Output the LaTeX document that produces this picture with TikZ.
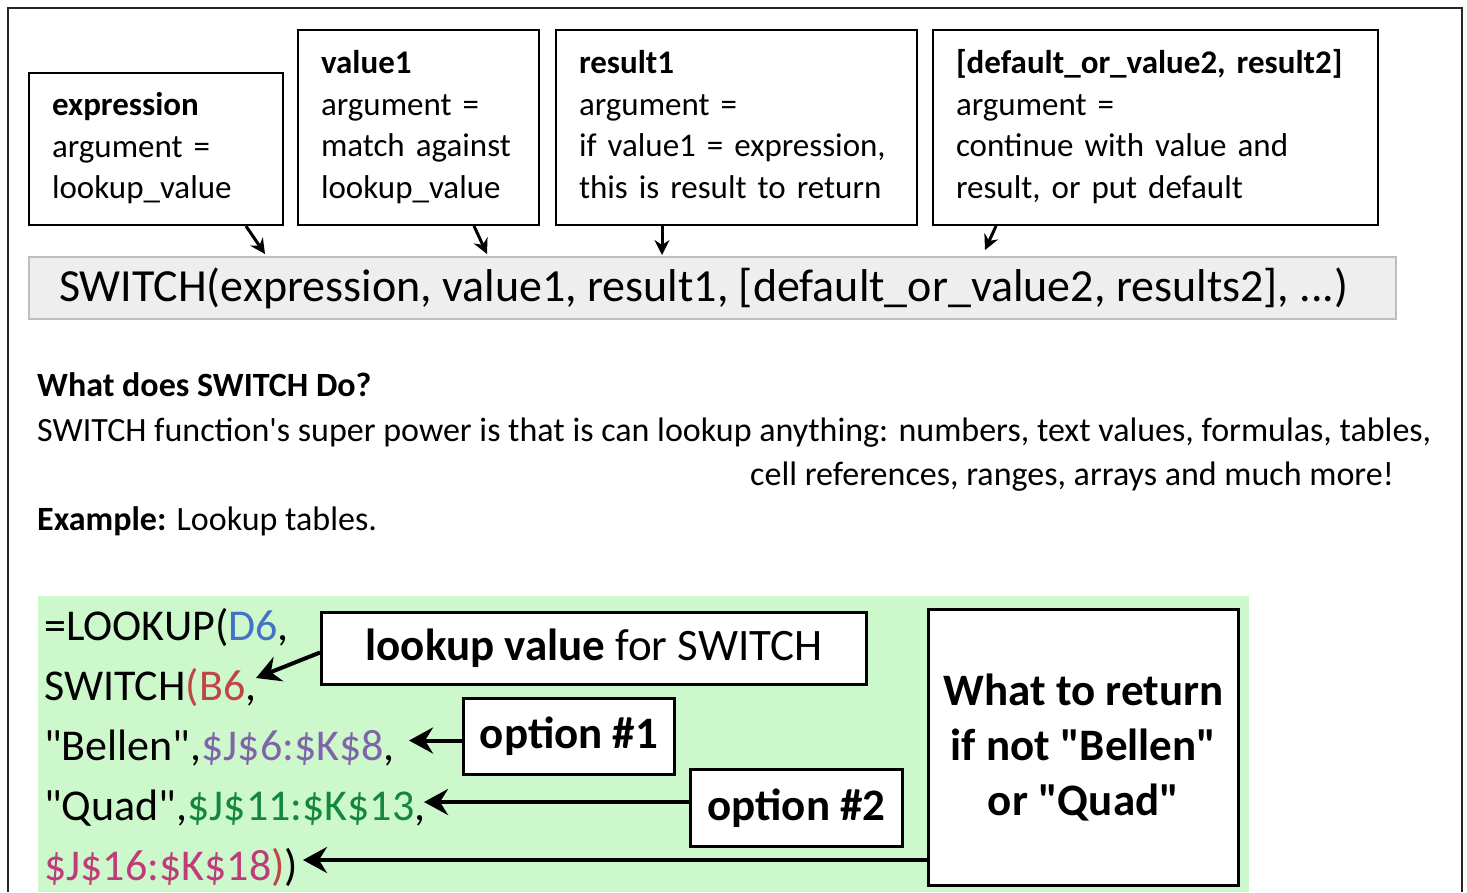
\documentclass[tikz,border=0pt]{standalone}
\usepackage{fontspec}
\setmainfont{Carlito}
\usetikzlibrary{arrows.meta}
\definecolor{barfill}{RGB}{238,238,238}
\definecolor{barline}{RGB}{190,190,190}
\definecolor{panelgreen}{RGB}{204,248,204}
\definecolor{refblue}{RGB}{68,114,196}
\definecolor{refred}{RGB}{192,70,70}
\definecolor{refpurple}{RGB}{128,100,170}
\definecolor{refgreen}{RGB}{20,135,60}
\definecolor{refmagenta}{RGB}{190,60,120}
\newcommand{\dq}{\textquotedbl}
\begin{document}
\begin{tikzpicture}[x=1pt,y=-1pt,
  argbox/.style={draw=black, line width=2pt, fill=white, anchor=north west,
    inner xsep=23pt, inner ysep=0pt, align=left,
    font=\fontsize{33}{41.5}\selectfont},
  toparrow/.style={line width=3pt, -{Stealth[length=15pt,width=15pt,inset=5pt]}},
  ptext/.style={anchor=base west, inner sep=0pt, font=\fontsize{34}{40}\selectfont},
  ftext/.style={anchor=base west, inner sep=0pt, font=\fontsize{44}{60}\selectfont},
  lbox/.style={draw=black, line width=3pt, fill=white, anchor=north west,
    inner sep=0pt, align=center, font=\fontsize{45}{55}\selectfont},
  bigarrow/.style={line width=4pt, -{Stealth[length=24pt,width=26pt,inset=8pt]}}]

% canvas and outer frame
\useasboundingbox[fill=white] (0,0) rectangle (1467,892);
\draw[line width=2pt, black!85] (8,892) -- (8,8) -- (1462,8) -- (1462,892);

% argument boxes
\node[argbox, text width=208pt, minimum height=152pt] (expr) at (28,72)
  {\strut\textbf{expression}\\argument =\\lookup\_value\strut};
\node[argbox, text width=195pt, minimum height=195pt] (val) at (297,29)
  {\strut\textbf{value1}\\argument =\\match against\\lookup\_value\strut};
\node[argbox, text width=315pt, minimum height=195pt] (res) at (555,29)
  {\strut\textbf{result1}\\argument =\\if value1 = expression,\\this is result to return\strut};
\node[argbox, text width=399pt, minimum height=195pt] (def) at (932,29)
  {\strut\textbf{[default\_or\_value2, result2]}\\argument =\\continue with value and\\result, or put default\strut};

% syntax bar
\node[draw=barline, line width=2pt, fill=barfill, anchor=north west,
  minimum height=62pt, inner xsep=30pt, inner ysep=0pt,
  font=\fontsize{46}{55}\selectfont] (bar) at (28,256)
  {\makebox[1307pt][l]{SWITCH(expression, value1, result1, [default\_or\_value2, results2], ...)}};

\draw[toparrow] ([xshift=-38pt]expr.south east) -- ([xshift=237pt,yshift=2pt]bar.north west);
\draw[toparrow] ([xshift=177pt]val.south west) -- ([xshift=459pt,yshift=2pt]bar.north west);
\draw[toparrow] ([xshift=107pt]res.south west) -- ([xshift=634pt,yshift=1pt]bar.north west);
\draw[toparrow] ([xshift=64pt]def.south west) -- ([xshift=957pt,yshift=6pt]bar.north west);

% description
\node[ptext, font=\fontsize{34}{40}\selectfont\bfseries] (q) at (37,396) {What does SWITCH Do?};
\node[ptext] (p1) at (37,441) {SWITCH function\textquotesingle s super power is that is can lookup anything: numbers, text values, formulas, tables,};
\node[ptext] (p2) at (750,485) {cell references, ranges, arrays and much more!};
\node[ptext] (ex) at (37,530) {\textbf{Example:} Lookup tables.};

% example panel
\node[fill=panelgreen, anchor=north west, minimum width=1211pt, minimum height=296pt, inner sep=0pt] (panel) at (38,596) {};

\node[ftext] (f1) at (44,640) {=LOOKUP(\textcolor{refblue}{D6},};
\node[ftext] (f2) at (44,700) {SWITCH\textcolor{refred}{(B6},};
\node[ftext] (f3) at (44,760) {\dq Bellen\dq,\textcolor{refpurple}{\$J\$6:\$K\$8},};
\node[ftext] (f4) at (44,820) {\dq Quad\dq,\textcolor{refgreen}{\$J\$11:\$K\$13},};
\node[ftext] (f5) at (44,880) {\textcolor{refmagenta}{\$J\$16:\$K\$18}\textcolor{refred}{)})};

\node[lbox, minimum width=545pt, minimum height=72pt] (lk) at (320,611) {\textbf{lookup value} for SWITCH};
\node[lbox, minimum width=211pt, minimum height=76pt] (o1) at (462,697) {\textbf{option \#1}};
\node[lbox, minimum width=212pt, minimum height=77pt] (o2) at (689,768) {\textbf{option \#2}};
\node[lbox, minimum width=310pt, minimum height=276pt, font=\fontsize{45}{55}\selectfont\bfseries] (ret) at (927,608)
  {What to return\\if not \dq Bellen\dq\\or \dq Quad\dq};

\coordinate (t0) at (256,678);
\coordinate (t1) at (409,0);
\coordinate (t2) at (424,0);
\coordinate (t3) at (303,860);

\draw[bigarrow] ([yshift=-4pt]lk.west) -- (t0);
\draw[bigarrow] ([yshift=-4pt]o1.west) -- ([yshift=-4pt]o1.west -| t1);
\draw[bigarrow] ([yshift=6pt]o2.west) -- ([yshift=6pt]o2.west -| t2);
\draw[bigarrow] (ret.west |- t3) -- (t3);
\end{tikzpicture}
\end{document}
